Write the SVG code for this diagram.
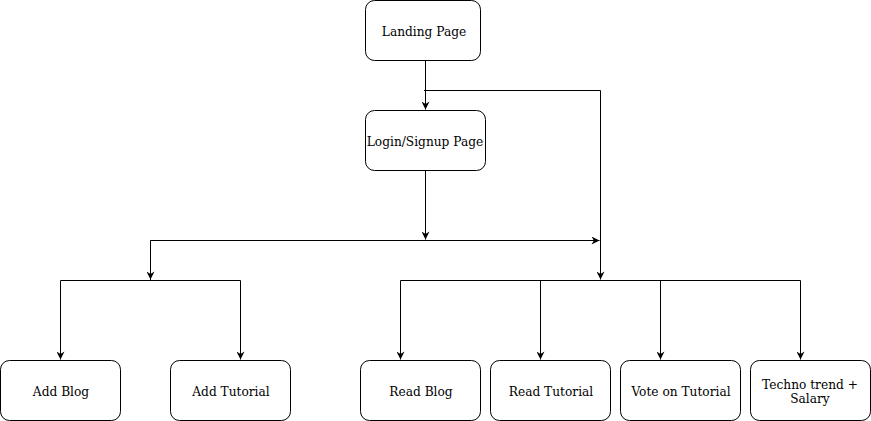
<svg xmlns="http://www.w3.org/2000/svg" width="871" height="421" viewBox="0 0 871 421">
<style>
.box{fill:#fff;stroke:#000;stroke-width:1}
.lbl{font-family:"DejaVu Serif",serif;font-size:12.2px;fill:#000;text-anchor:middle;dominant-baseline:central}
.edge{fill:none;stroke:#000;stroke-width:1}
</style>
<defs>
<marker id="arr" viewBox="0 0 10 10" refX="10" refY="5" markerWidth="9" markerHeight="8" markerUnits="userSpaceOnUse" orient="auto">
<path d="M0,0 L10,5 L0,10 L3,5 Z" fill="#000"/>
</marker>
</defs>
<rect width="871" height="421" fill="#fff"/>
<g id="connectors">
<path class="edge" d="M425.5,60.5 V109.5" marker-end="url(#arr)"/>
<path class="edge" d="M424,90.5 H600.5 V279.5" marker-end="url(#arr)"/>
<path class="edge" d="M425.5,170.5 V239.5" marker-end="url(#arr)"/>
<path class="edge" d="M150.5,280 V240.5 H599.5" marker-end="url(#arr)"/>
<path class="edge" d="M150.5,240.5 V279.5" marker-end="url(#arr)"/>
<path class="edge" d="M240.5,280.5 H60.5 V359.5" marker-end="url(#arr)"/>
<path class="edge" d="M240.5,280.5 V359.5" marker-end="url(#arr)"/>
<path class="edge" d="M800.5,280.5 H400.5 V359.5" marker-end="url(#arr)"/>
<path class="edge" d="M540.5,280.5 V359.5" marker-end="url(#arr)"/>
<path class="edge" d="M660.5,280.5 V359.5" marker-end="url(#arr)"/>
<path class="edge" d="M800.5,280.5 V359.5" marker-end="url(#arr)"/>
</g>
<g id="landing"><rect class="box" x="365.5" y="0.5" width="115" height="60" rx="9"/><text class="lbl" x="424" y="32">Landing Page</text></g>
<g id="login"><rect class="box" x="365.5" y="110.5" width="120" height="60" rx="9"/><text class="lbl" x="425" y="142">Login/Signup Page</text></g>
<g id="addblog"><rect class="box" x="0.5" y="360.5" width="120" height="60" rx="9"/><text class="lbl" x="61" y="392">Add Blog</text></g>
<g id="addtutorial"><rect class="box" x="170.5" y="360.5" width="120" height="60" rx="9"/><text class="lbl" x="231" y="392">Add Tutorial</text></g>
<g id="readblog"><rect class="box" x="360.5" y="360.5" width="120" height="60" rx="9"/><text class="lbl" x="421" y="392">Read Blog</text></g>
<g id="readtutorial"><rect class="box" x="490.5" y="360.5" width="120" height="60" rx="9"/><text class="lbl" x="551" y="392">Read Tutorial</text></g>
<g id="vote"><rect class="box" x="620.5" y="360.5" width="120" height="60" rx="9"/><text class="lbl" x="681" y="392">Vote on Tutorial</text></g>
<g id="techno"><rect class="box" x="750.5" y="360.5" width="120" height="60" rx="9"/><text class="lbl" x="810" y="385">Techno trend +</text><text class="lbl" x="810" y="399">Salary</text></g>
</svg>
